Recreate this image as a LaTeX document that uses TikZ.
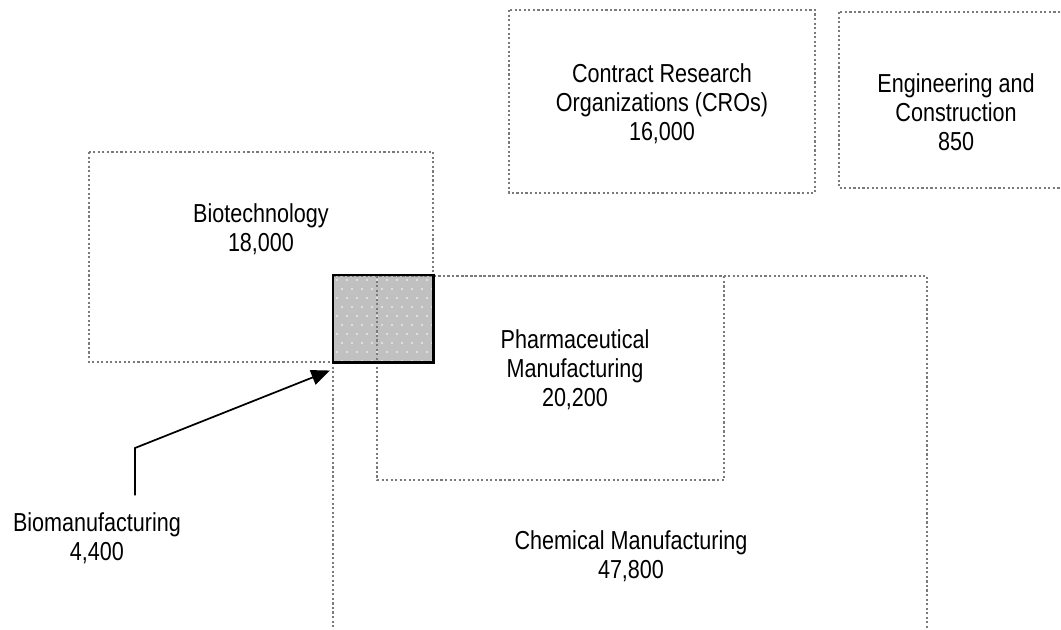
\documentclass[tikz,border=0pt]{standalone}
\usepackage{fontspec}
\setmainfont{Liberation Sans}[FakeStretch=0.83]
\usetikzlibrary{arrows.meta,positioning}

\definecolor{shade}{HTML}{C0C0C0}
\definecolor{dotline}{HTML}{7A7A7A}

\tikzset{
  sector/.style={draw=dotline, line width=1.7pt, dash pattern=on 1.6pt off 1.8pt},
  sectortext/.style={align=center, inner sep=0pt, font=\fontsize{19.5pt}{21.75pt}\selectfont},
  pointer/.style={line width=1.3pt, -{Triangle[length=14pt,width=11.5pt]}}
}

\begin{document}
\begin{tikzpicture}[x=0.75pt, y=-0.75pt]
\useasboundingbox (0,0) rectangle (1061,629);

% overlap of biotechnology and chemical manufacturing
\node[fill=shade, minimum width=75pt, minimum height=65.25pt, inner sep=0pt, anchor=north west] (bioman) at (333,275) {};
\begin{scope}
\clip (bioman.north west) rectangle (bioman.south east);
\foreach \i in {0,...,10}
  \foreach \j in {0,...,9}
    \fill[white] ({337+10*\i+5*mod(\j,2)},{280+9*\j}) circle (0.7pt);
\end{scope}

% sectors
\draw[sector] (89,152) rectangle (433,362);   % biotechnology
\draw[sector] (509,10) rectangle (815,193);   % CROs
\draw[sector] (839,12) rectangle (1075,188);  % engineering
\draw[sector] (377,276) rectangle (724,480);  % pharmaceutical
\draw[sector] (333,276) rectangle (927,640);  % chemical

\draw[line width=1.6pt] (bioman.north west) rectangle (bioman.south east);

% texts
\node[sectortext] (biotechtext) at (261,229) {Biotechnology\\18,000};
\node[sectortext] (crotext) at (662,104) {Contract Research\\Organizations (CROs)\\16,000};
\node[sectortext] (engtext) at (956,112) {Engineering and\\Construction\\850};
\node[sectortext] (pharmatext) at (575,370) {Pharmaceutical\\Manufacturing\\20,200};
\node[sectortext] (chemtext) at (631,556) {Chemical Manufacturing\\47,800};
\node[sectortext] (biolabel) at (97,538) {Biomanufacturing\\4,400};

% pointer to the overlap
\coordinate (elbow) at (135,448);
\draw[pointer, shorten <=12.5pt] (biolabel.north -| elbow) -- (elbow) -- ([shift={(-3,8)}]bioman.south west);
\end{tikzpicture}
\end{document}
